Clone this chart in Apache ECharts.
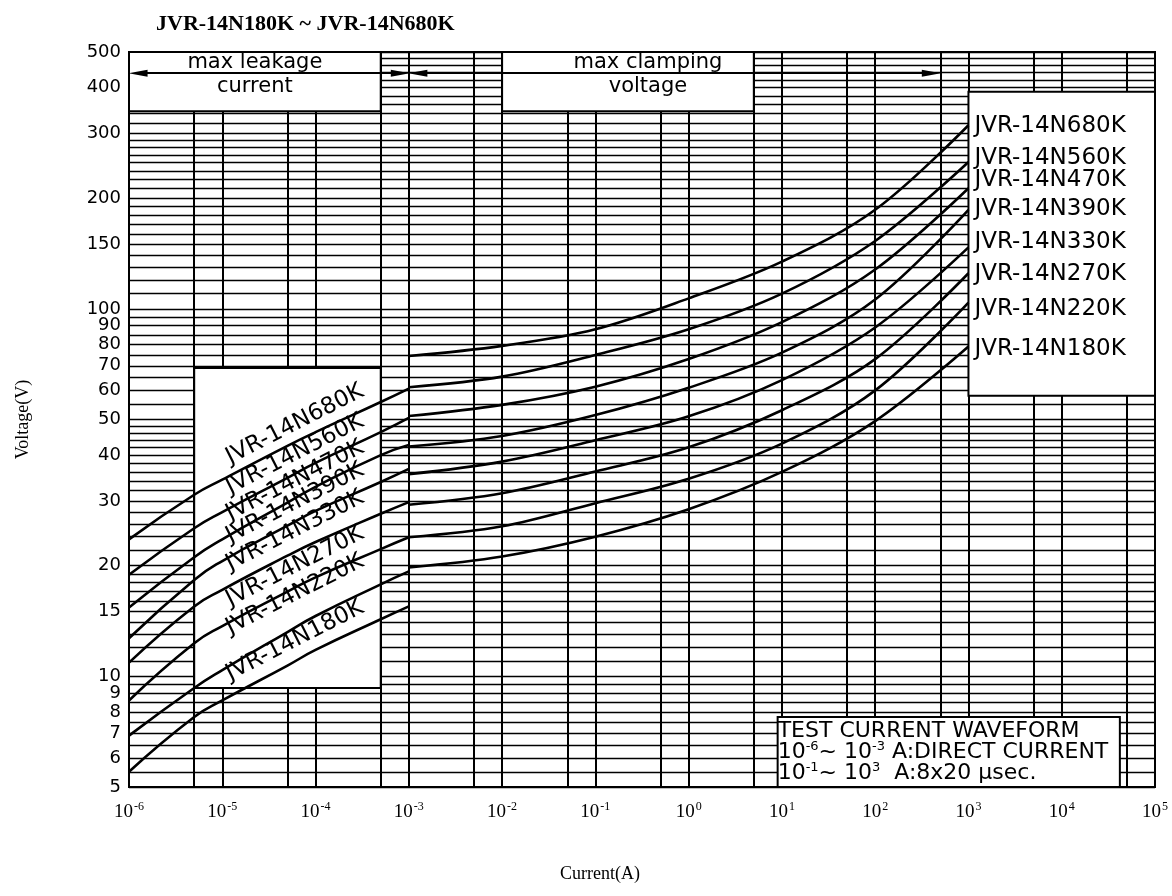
<!DOCTYPE html>
<html>
<head>
<meta charset="utf-8">
<title>JVR-14N V-I</title>
<script src="https://cdn.jsdelivr.net/npm/echarts@6/dist/echarts.min.js"></script>
<style>
html, body { margin: 0; background: #fff; }
#chart { width: 1172px; height: 896px; }
</style>
</head>
<body>
<div id="chart"></div>
<script>
// varistor types, top curve first
var partNames = ['JVR-14N680K', 'JVR-14N560K', 'JVR-14N470K', 'JVR-14N390K',
    'JVR-14N330K', 'JVR-14N270K', 'JVR-14N220K', 'JVR-14N180K'];

// max leakage current part (A / V)
var leakageCurrent = [1e-6, 5e-6, 1e-5, 5e-5, 1e-4, 5e-4, 1e-3];
var leakageVoltage = [
    [23.6, 31.2, 34.3, 42.4, 46.2, 55.8, 60.7],
    [18.9, 25.3, 28.0, 34.7, 38.1, 46.2, 50.5],
    [15.4, 21.1, 23.6, 29.7, 32.8, 40.0, 42.6],
    [12.7, 18.3, 20.6, 25.7, 28.2, 33.8, 36.7],
    [10.9, 15.5, 17.2, 21.3, 23.2, 27.7, 29.8],
    [8.6, 12.3, 13.7, 17.0, 18.6, 22.2, 23.9],
    [6.9, 9.3, 10.4, 13.2, 14.6, 17.8, 19.3],
    [5.5, 7.75, 8.6, 10.7, 11.8, 14.3, 15.5]
];

// max clamping voltage part (A / V)
var clampCurrent = [1e-3, 1e-2, 1e-1, 1, 10, 100, 1000];
var clampVoltage = [
    [74.4, 79.3, 88.0, 106.8, 134.4, 186, 316],
    [61.2, 65.4, 74.9, 88.0, 110, 153, 251],
    [51.1, 54.8, 61.4, 73.0, 92.0, 128, 213],
    [42.2, 45.1, 51.4, 61.0, 76.0, 106, 186],
    [35.5, 38.4, 43.9, 51.0, 64.0, 89.0, 147],
    [29.3, 31.5, 36.1, 42.0, 53.0, 73.0, 125],
    [23.9, 25.6, 29.6, 34.5, 43.0, 60.0, 104],
    [19.8, 21.2, 24.0, 28.5, 36.0, 49.5, 79.0]
];

// axes
var xLabelValues = [1e-6, 1e-5, 1e-4, 1e-3, 1e-2, 1e-1, 1, 10, 100, 1000, 1e4, 1e5];
var xGridValues = [1e-6, 5e-6, 1e-5, 5e-5, 1e-4, 5e-4, 1e-3, 5e-3, 1e-2, 5e-2, 1e-1, 5e-1,
    1, 5, 10, 50, 100, 500, 1000, 5000, 1e4, 5e4, 1e5];
var yLabelValues = [5, 6, 7, 8, 9, 10, 15, 20, 30, 40, 50, 60, 70, 80, 90, 100, 150, 200, 300, 400, 500];
var yGridValues = [5, 5.5, 6, 6.5, 7, 7.5, 8, 8.5, 9, 9.5,
    10, 11, 12, 13, 14, 15, 16, 17, 18, 19,
    20, 22, 24, 26, 28, 30, 32, 34, 36, 38, 40, 42, 44, 46, 48,
    50, 55, 60, 65, 70, 75, 80, 85, 90, 95,
    100, 110, 120, 130, 140, 150, 160, 170, 180, 190,
    200, 212.5, 225, 237.5, 250, 262.5, 275, 287.5,
    300, 320, 340, 360, 380, 400, 420, 440, 460, 480, 500];

// where the slanted names sit in the leakage box (voltage at 6e-5 A)
var leakLabelAt = [48.5, 40.2, 34.1, 29.6, 24.9, 19.9, 16.7, 12.5];
// small vertical nudges of the names in the right box
var endLabelShift = [1, -4, -8, -1, -5, 1, 6, 3];

var plotFont = 'DejaVu Sans';
var serifFont = 'Liberation Serif';

var myChart = echarts.init(document.getElementById('chart'));

var series = [];

// white boxes over the grid
series.push({
    name: 'boxes',
    type: 'line',
    data: [],
    z: 1,
    silent: true,
    markArea: {
        silent: true,
        itemStyle: { color: '#fff', borderColor: '#000', borderWidth: 2 },
        data: [
            [{ name: 'max leakage\ncurrent', coord: [1e-6, 500],
               label: { show: true, position: 'insideTop', distance: 0, lineHeight: 24, fontSize: 21,
                        fontFamily: plotFont, color: '#000' } },
             { coord: [5e-4, 345] }],
            [{ name: 'max clamping\nvoltage', coord: [1e-2, 500],
               label: { show: true, position: 'insideTop', distance: 0, lineHeight: 24, fontSize: 21,
                        offset: [20, 0], fontFamily: plotFont, color: '#000' } },
             { coord: [5, 345] }],
            [{ name: '', coord: [1000, 390], label: { show: false } }, { coord: [1e5, 58] }],
            [{ name: '', coord: [5e-6, 69], label: { show: false } }, { coord: [5e-4, 9.3] }],
            [{ name: 'test', coord: [9, 7.75],
               label: {
                   show: true, position: 'insideLeft', distance: 1, fontSize: 22, lineHeight: 21,
                   fontFamily: plotFont, color: '#000',
                   formatter: 'TEST CURRENT WAVEFORM\n10{s|-6}~ 10{s|-3} A:DIRECT CURRENT\n10{s|-1}~ 10{s|3}  A:8x20 \u03bcsec.',
                   rich: { s: { fontSize: 13, fontFamily: plotFont, color: '#000', padding: [0, 0, 10, 0] } }
               } },
             { coord: [4.2e4, 5] }]
        ]
    }
});

// arrows of the two ranges
series.push({
    name: 'arrows',
    type: 'line',
    data: [],
    z: 4,
    silent: true,
    markLine: {
        silent: true,
        symbol: ['triangle', 'triangle'],
        symbolSize: [7, 19],
        label: { show: false },
        lineStyle: { color: '#000', width: 2, type: 'solid' },
        data: [
            [{ coord: [1.25e-6, 438] }, { coord: [8.1e-4, 438] }],
            [{ coord: [1.25e-3, 438] }, { coord: [400, 438] }]
        ]
    }
});

partNames.forEach(function (name, i) {
    series.push({
        name: name + ' leakage',
        type: 'line',
        data: leakageCurrent.map(function (c, j) { return [c, leakageVoltage[i][j]]; }),
        smooth: 0.5,
        symbol: 'none',
        silent: true,
        z: 3,
        lineStyle: { color: '#000', width: 2.6 },
        markPoint: {
            silent: true,
            symbol: 'circle',
            symbolSize: 0,
            data: [{ coord: [6e-5, leakLabelAt[i]], name: name }],
            label: { show: true, position: 'inside', rotate: 27, formatter: name,
                     fontSize: 23, fontFamily: plotFont, color: '#000' }
        }
    });
    series.push({
        name: name,
        type: 'line',
        data: clampCurrent.map(function (c, j) { return [c, clampVoltage[i][j]]; }),
        smooth: 0.35,
        symbol: 'none',
        silent: true,
        z: 3,
        lineStyle: { color: '#000', width: 2.6 },
        endLabel: { show: true, formatter: name, distance: 6, offset: [0, endLabelShift[i]],
                    fontSize: 23, fontFamily: plotFont, color: '#000' }
    });
});

var option = {
    animation: false,
    backgroundColor: '#fff',
    title: {
        text: 'JVR-14N180K ~ JVR-14N680K',
        left: 151, top: 8,
        textStyle: { fontFamily: serifFont, fontSize: 22, fontWeight: 'bold', color: '#000' }
    },
    grid: {
        left: 129, top: 52, width: 1026, height: 735,
        show: true, borderColor: '#000', borderWidth: 2, backgroundColor: 'transparent',
        outerBoundsMode: 'none'
    },
    xAxis: {
        type: 'log', logBase: 10, min: 1e-6, max: 1e5,
        name: 'Current(A)', nameLocation: 'middle', nameGap: 78,
        nameTextStyle: { fontFamily: serifFont, fontSize: 18, color: '#000', padding: [0, 84, 0, 0] },
        axisLine: { show: false },
        axisTick: { show: false, customValues: xGridValues },
        splitLine: { show: true, lineStyle: { color: '#000', width: 2 } },
        axisLabel: {
            customValues: xLabelValues, margin: 14, color: '#000',
            formatter: function (v) {
                var e = Math.round(Math.log(v) / Math.LN10);
                return '{b|10}{s|' + e + '}';
            },
            rich: {
                b: { fontFamily: serifFont, fontSize: 19, color: '#000' },
                s: { fontFamily: serifFont, fontSize: 12, color: '#000', padding: [0, 0, 10, 1] }
            }
        }
    },
    yAxis: {
        type: 'log', logBase: 10, min: 5, max: 500,
        name: 'Voltage(V)', nameLocation: 'middle', nameGap: 97, nameRotate: 90,
        nameTextStyle: { fontFamily: serifFont, fontSize: 18, color: '#000' },
        axisLine: { show: false },
        axisTick: { show: false, customValues: yGridValues },
        splitLine: { show: true, lineStyle: { color: '#000', width: 1.4 } },
        axisLabel: {
            customValues: yLabelValues, margin: 8, color: '#000',
            fontFamily: plotFont, fontSize: 18,
            formatter: function (v) { return String(v); }
        }
    },
    series: series
};

myChart.setOption(option, true);
window.onresize = myChart.resize;
</script>
</body>
</html>
